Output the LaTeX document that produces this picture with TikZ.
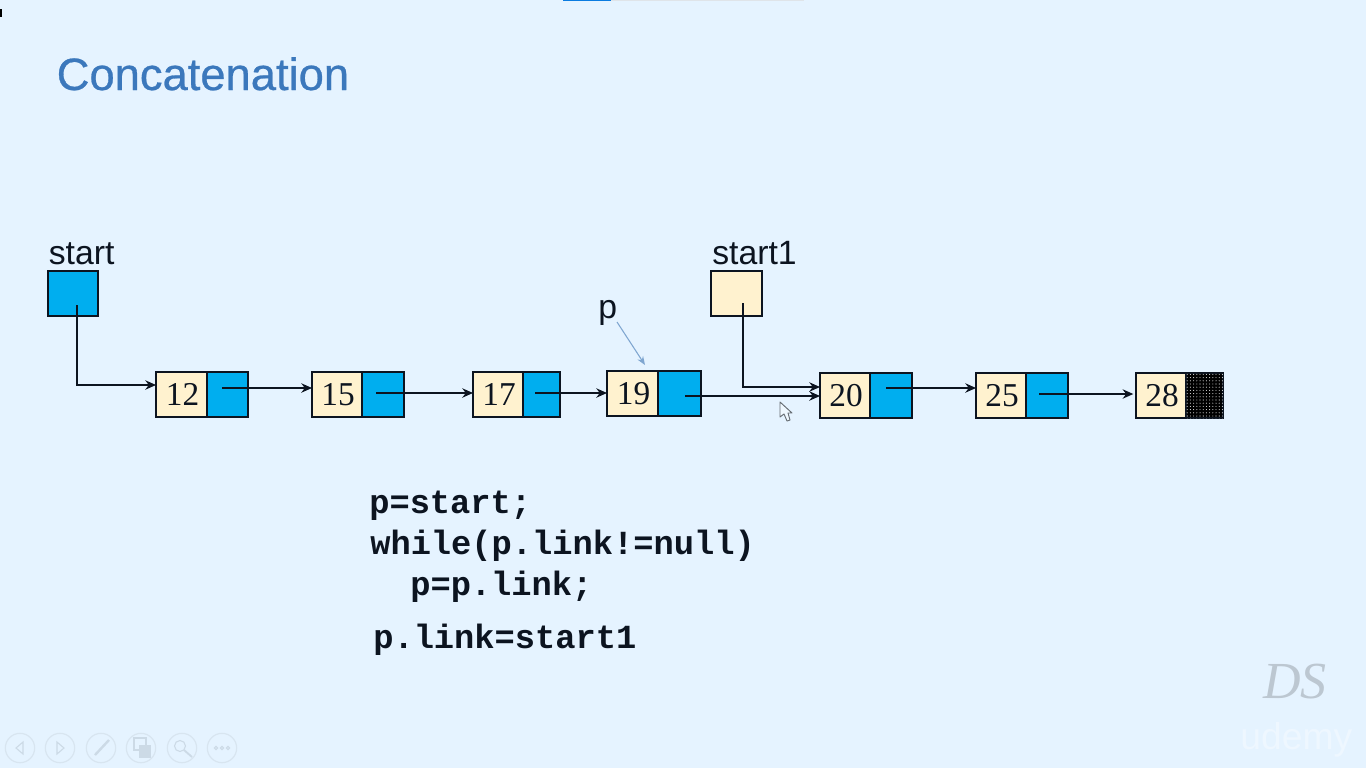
\documentclass[tikz,border=0pt]{standalone}
\usepackage{fontspec}
\setmainfont{Liberation Sans}
\newfontfamily\numfont{Liberation Serif}
\newfontfamily\titlefont{Liberation Sans}[RawFeature={embolden=0.6}]
\newfontfamily\codefont{Liberation Mono}[BoldFont={Liberation Mono Bold}]
\usetikzlibrary{arrows.meta,patterns}
\pgfdeclarepatternformonly{finedots}{\pgfqpoint{-1pt}{-1pt}}{\pgfqpoint{1pt}{1pt}}{\pgfqpoint{2.4pt}{2.4pt}}{%
  \pgfpathcircle{\pgfqpoint{0pt}{0pt}}{0.42pt}\pgfusepath{fill}}
\definecolor{bgc}{HTML}{E5F3FF}
\definecolor{cream}{HTML}{FFF2CF}
\definecolor{cellblue}{HTML}{00AEEF}
\definecolor{titleblue}{HTML}{3B78BC}
\definecolor{inkc}{HTML}{0C1420}
\definecolor{pblue}{HTML}{7FA6D0}
\definecolor{iconc}{HTML}{D8E5F0}
\definecolor{iconf}{HTML}{CCDAE6}
\definecolor{barblue}{HTML}{0A7BE0}
\definecolor{bargrey}{HTML}{DFE4E9}
\tikzset{
  x=0.75pt, y=-0.75pt,
  cellbox/.style={draw=inkc, line width=1.4pt, rectangle, inner sep=0pt, outer sep=0pt, text=inkc, font=\numfont\fontsize{25}{25}\selectfont, execute at begin node={\kern1.5pt}},
  datacell/.style={cellbox, fill=cream},
  linkcell/.style={cellbox, fill=cellblue},
  nullcell/.style={cellbox, fill=black, postaction={pattern=finedots, pattern color=white!85!black}},
  link/.style={draw=inkc, line width=1.3pt, -{Stealth[length=8pt,width=7pt]}},
  plink/.style={draw=pblue, line width=0.8pt, -{Stealth[length=6.5pt,width=5pt]}},
  varlabel/.style={anchor=base west, inner sep=0pt, text=inkc, font=\fontsize{25.3}{26}\selectfont},
  codeline/.style={anchor=base west, inner sep=0pt, text=inkc, font=\codefont\bfseries\fontsize{25.3}{26}\selectfont},
  toolring/.style={draw=iconc, line width=0.9pt, circle, minimum size=22pt, inner sep=0pt},
  toolmark/.style={draw=iconf, line width=0.8pt},
}
% name, x1, y1, x2, y2, style, text
\newcommand\cellat[7]{%
  \node[#6, minimum width={(#4-#2)*0.75pt}, minimum height={(#5-#3)*0.75pt}] (#1) at ({(#2+#4)/2},{(#3+#5)/2}) {#7};}
\begin{document}
\begin{tikzpicture}
\useasboundingbox (0,0) rectangle (1366,768);
\fill[bgc] (0,0) rectangle (1366,768);
% top progress bar and corner mark
\fill[barblue] (563,0) rectangle (611,1.2);
\fill[bargrey] (611,0) rectangle (804,1.2);
\fill[black] (0,9) rectangle (1.5,17);
% title
\node[anchor=base west, inner sep=0pt, text=titleblue, font=\titlefont\fontsize{34}{34}\selectfont] (title) at (56.5,90) {Concatenation};
% head pointers
\cellat{head}{48}{271}{98}{316}{linkcell}{}
\cellat{headb}{711}{271}{762}{316}{datacell}{}
\node[varlabel] (startlab) at (48.5,264) {start};
\node[varlabel] (start1lab) at (712,264) {start1};
\node[varlabel] (plab) at (598,318) {p};
% list cells
\cellat{d12}{156}{372}{207}{417}{datacell}{12}
\cellat{l12}{207}{372}{248}{417}{linkcell}{}
\cellat{d15}{312}{372}{362}{417}{datacell}{15}
\cellat{l15}{362}{372}{404}{417}{linkcell}{}
\cellat{d17}{473}{372}{523}{417}{datacell}{17}
\cellat{l17}{523}{372}{560}{417}{linkcell}{}
\cellat{d19}{607}{371}{658}{416}{datacell}{19}
\cellat{l19}{658}{371}{701}{416}{linkcell}{}
\cellat{d20}{820}{373}{870}{418}{datacell}{20}
\cellat{l20}{870}{373}{912}{418}{linkcell}{}
\cellat{d25}{976}{373}{1026}{418}{datacell}{25}
\cellat{l25}{1026}{373}{1068}{418}{linkcell}{}
\cellat{d28}{1136}{373}{1186}{418}{datacell}{28}
\cellat{l28}{1186}{373}{1223}{418}{nullcell}{}
% connector start points
\coordinate (s0) at (77,305);
\coordinate (s0b) at (77,385);
\coordinate (s12) at (222,388);
\coordinate (s15) at (376,393);
\coordinate (s17) at (535,393);
\coordinate (s19) at (685,396);
\coordinate (s1) at (743,303);
\coordinate (s1b) at (743,387);
\coordinate (s20) at (886,388);
\coordinate (s25) at (1039,394);
\coordinate (ptail) at (617,322);
\coordinate (phead) at (645,365);
% connectors
\draw[link] (s0) -- (s0b) -- (d12.west |- s0b);
\draw[link] (s12) -- (d15.west |- s12);
\draw[link] (s15) -- (d17.west |- s15);
\draw[link] (s17) -- (d19.west |- s17);
\draw[link] (s19) -- (d20.west |- s19);
\draw[link] (s1) -- (s1b) -- (d20.west |- s1b);
\draw[link] (s20) -- (d25.west |- s20);
\draw[link, shorten >=2pt] (s25) -- (d28.west |- s25);
\draw[plink] (ptail) -- (phead);
% code
\node[codeline] (c1) at (369,513) {p=start;};
\node[codeline] (c2) at (370,554) {while(p.link!=null)};
\node[codeline] (c3) at (410,595) {p=p.link;};
\node[codeline] (c4) at (373,648) {p.link=start1};
% mouse cursor
\draw[draw=iconf!50!black, fill=bgc!60!white, line width=0.7pt, line join=round]
  (780,402) -- (780,417) -- (784,414) -- (787,421) -- (790,420) -- (788,413) -- (792,413) -- cycle;
% slide-show toolbar
\node[toolring] (t1) at (20,748) {};
\node[toolring] (t2) at (60,748) {};
\node[toolring] (t3) at (101,748) {};
\node[toolring] (t4) at (141,748) {};
\node[toolring] (t5) at (182,748) {};
\node[toolring] (t6) at (222,748) {};
\draw[toolmark] (23,742) -- (16,748) -- (23,754) -- cycle;
\draw[toolmark] (57,742) -- (64,748) -- (57,754) -- cycle;
\draw[toolmark, line width=1.8pt] (109,740) -- (95,755);
\draw[toolmark] (134,738) rectangle (146,750);
\draw[toolmark, fill=iconf] (140,746) rectangle (150,757);
\draw[toolmark] (180,746) circle [radius=5.5];
\draw[toolmark, line width=1.4pt] (184,750) -- (192,757);
\draw[toolmark] (216,748) circle [radius=1.7] (222,748) circle [radius=1.7] (228,748) circle [radius=1.7];
% watermarks
\node[anchor=base west, inner sep=0pt, text=black!18!bgc, font=\numfont\itshape\fontsize{39}{39}\selectfont] (ds) at (1263,698) {DS};
\node[anchor=base west, inner sep=0pt, text=white!35!bgc, font=\fontsize{28}{28}\selectfont] (ud) at (1240,749) {udemy};
\end{tikzpicture}
\end{document}
